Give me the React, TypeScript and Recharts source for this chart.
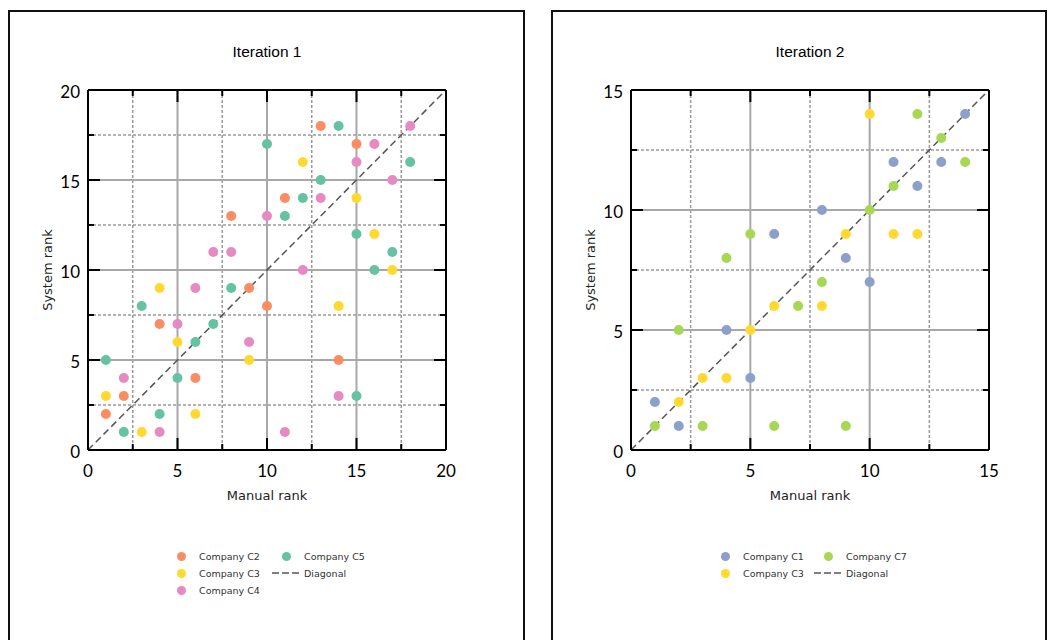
import React from "react";
import { CartesianGrid, ReferenceLine, Scatter, ScatterChart, XAxis, YAxis } from "recharts";

// Iteration 1: manual rank vs system rank per company
const i1C2Manual = [1, 2, 4, 6, 8, 9, 10, 11, 13, 14, 15];
const i1C2System = [2, 3, 7, 4, 13, 9, 8, 14, 18, 5, 17];
const i1C3Manual = [1, 3, 4, 5, 6, 9, 12, 14, 15, 16, 17];
const i1C3System = [3, 1, 9, 6, 2, 5, 16, 8, 14, 12, 10];
const i1C4Manual = [2, 4, 5, 6, 7, 8, 9, 10, 11, 12, 13, 14, 15, 16, 17, 18];
const i1C4System = [4, 1, 7, 9, 11, 11, 6, 13, 1, 10, 14, 3, 16, 17, 15, 18];
const i1C5Manual = [1, 2, 3, 4, 5, 6, 7, 8, 10, 11, 12, 13, 14, 15, 15, 16, 17, 18];
const i1C5System = [5, 1, 8, 2, 4, 6, 7, 9, 17, 13, 14, 15, 18, 12, 3, 10, 11, 16];

// Iteration 2
const i2C1Manual = [1, 2, 4, 5, 6, 8, 9, 10, 11, 12, 13, 14];
const i2C1System = [2, 1, 5, 3, 9, 10, 8, 7, 12, 11, 12, 14];
const i2C3Manual = [2, 3, 4, 5, 6, 8, 9, 10, 11, 12];
const i2C3System = [2, 3, 3, 5, 6, 6, 9, 14, 9, 9];
const i2C7Manual = [1, 2, 3, 4, 5, 6, 7, 8, 9, 10, 11, 12, 13, 14];
const i2C7System = [1, 5, 1, 8, 9, 1, 6, 7, 1, 10, 11, 14, 13, 12];

const i1Ticks = [0, 5, 10, 15, 20];
const i1Minor = [2.5, 7.5, 12.5, 17.5];
const i2Ticks = [0, 5, 10, 15];
const i2Minor = [2.5, 7.5, 12.5];

const TEAL = "#66c2a5";
const ORANGE = "#fc8d62";
const BLUE = "#8da0cb";
const PINK = "#e78ac3";
const GREEN = "#a6d854";
const YELLOW = "#ffd92f";

type Series = { name: string; color: string; manual: number[]; system: number[] };

const iter1: Series[] = [
  { name: "Company C2", color: ORANGE, manual: i1C2Manual, system: i1C2System },
  { name: "Company C3", color: YELLOW, manual: i1C3Manual, system: i1C3System },
  { name: "Company C4", color: PINK, manual: i1C4Manual, system: i1C4System },
  { name: "Company C5", color: TEAL, manual: i1C5Manual, system: i1C5System },
];
const iter2: Series[] = [
  { name: "Company C1", color: BLUE, manual: i2C1Manual, system: i2C1System },
  { name: "Company C3", color: YELLOW, manual: i2C3Manual, system: i2C3System },
  { name: "Company C7", color: GREEN, manual: i2C7Manual, system: i2C7System },
];

const toPoints = (m: number[], s: number[]) => m.map((x, i) => ({ x, y: s[i] }));

const PLOT = 358; // plot box side in px
const axisLine = { stroke: "#000", strokeWidth: 2 };
const tickFont = { fontFamily: "Lato", fontSize: 17, fill: "#000" };
const titleFont = { fontFamily: "DejaVu Sans", fontSize: 13, fill: "#222" };

const scaleOf = (axis: any, v: number) => {
  const s = axis?.scale;
  if (typeof s === "function") return s(v);
  if (s && typeof s.map === "function") return s.map(v);
  return 0;
};

// tick labels only on the major values; the tick marks are drawn separately
function makeLabel(side: string, majors: number[]) {
  return (p: any) => {
    const x = Number(p.x);
    const y = Number(p.y);
    const v = p.payload?.value;
    if (!majors.includes(v)) return <g />;
    if (side === "bottom")
      return (
        <text x={x} y={y + 27} textAnchor="middle" {...tickFont}>
          {v}
        </text>
      );
    return (
      <text x={x - 8} y={y + 8} textAnchor="end" {...tickFont}>
        {v}
      </text>
    );
  };
}

function LegendBox({ series, left, colW, rows }: { series: Series[]; left: number; colW: number; rows: number }) {
  const items = [...series.map((s) => ({ name: s.name, color: s.color, dash: false })), { name: "Diagonal", color: "#555", dash: true }];
  return (
    <div
      style={{
        position: "absolute",
        left,
        top: 547.5,
        display: "grid",
        gridTemplateRows: `repeat(${rows}, 17px)`,
        gridAutoFlow: "column",
        gridAutoColumns: `${colW}px`,
        fontFamily: "DejaVu Sans",
        fontSize: 9.5,
        color: "#333",
      }}
    >
      {items.map((it) => (
        <div key={it.name} style={{ display: "flex", alignItems: "center" }}>
          <div style={{ width: 28, display: "flex", justifyContent: "center", marginRight: 4 }}>
            {it.dash ? (
              <svg width={28} height={4}>
                <line x1={0} y1={2} x2={28} y2={2} stroke={it.color} strokeWidth={1.5} strokeDasharray="7 3" />
              </svg>
            ) : (
              <div style={{ width: 9, height: 9, borderRadius: "50%", background: it.color }} />
            )}
          </div>
          <span>{it.name}</span>
        </div>
      ))}
    </div>
  );
}

function RankPanel(props: {
  title: string;
  series: Series[];
  ticks: number[];
  minor: number[];
  plotLeft: number;
  panelLeft: number;
  panelWidth: number;
  legendLeft: number;
  legendColW: number;
  legendRows: number;
}) {
  const { title, series, ticks, minor, plotLeft } = props;
  const max = ticks[ticks.length - 1];
  const all = [...ticks, ...minor].sort((a, b) => a - b);
  const domain: [number, number] = [0, max];
  const inner = ticks.slice(1, -1);
  // inward tick marks: 12px for major, 6px for minor, expressed in axis units
  const len = (v: number) => ((ticks.includes(v) ? 12 : 6) * max) / PLOT;
  const axisCommon = {
    type: "number" as const,
    domain,
    ticks: all,
    interval: 0 as const,
    allowDataOverflow: true,
    tickSize: 0,
    tickMargin: 0,
    tickLine: false,
    axisLine,
  };
  const tickMark = { xAxisId: "b", yAxisId: "l", stroke: "#000", strokeWidth: 2 };
  return (
    <>
      <div
        style={{
          position: "absolute",
          left: props.panelLeft,
          top: 10,
          width: props.panelWidth,
          height: 660,
          border: "2px solid #111",
          boxSizing: "border-box",
        }}
      />
      <div
        style={{
          position: "absolute",
          left: plotLeft,
          width: PLOT,
          top: 43,
          textAlign: "center",
          fontFamily: "Liberation Sans",
          fontSize: 15.5,
          color: "#000",
        }}
      >
        {title}
      </div>
      <div style={{ position: "absolute", left: plotLeft - 60, top: 59 }}>
        <ScatterChart width={430} height={446} margin={{ top: 21, right: 2, bottom: 5, left: 20 }}>
          <CartesianGrid
            xAxisId="b"
            yAxisId="l"
            stroke="#9a9a9a"
            strokeWidth={1.5}
            strokeDasharray="3 2"
            verticalCoordinatesGenerator={({ xAxis }: any) => minor.map((v) => scaleOf(xAxis, v))}
            horizontalCoordinatesGenerator={({ yAxis }: any) => minor.map((v) => scaleOf(yAxis, v))}
          />
          <CartesianGrid
            xAxisId="b"
            yAxisId="l"
            stroke="#a8a8a8"
            strokeWidth={2}
            verticalCoordinatesGenerator={({ xAxis }: any) => inner.map((v) => scaleOf(xAxis, v))}
            horizontalCoordinatesGenerator={({ yAxis }: any) => inner.map((v) => scaleOf(yAxis, v))}
          />
          {series.map((s) => (
            <Scatter
              key={s.name}
              name={s.name}
              xAxisId="b"
              yAxisId="l"
              data={toPoints(s.manual, s.system)}
              fill={s.color}
              isAnimationActive={false}
              shape={(p: any) => <circle cx={p.cx} cy={p.cy} r={5} fill={s.color} />}
            />
          ))}
          <ReferenceLine
            xAxisId="b"
            yAxisId="l"
            segment={[
              { x: 0, y: 0 },
              { x: max, y: max },
            ]}
            stroke="#555"
            strokeWidth={1.5}
            strokeDasharray="7 4"
          />
          {all.map((v) => (
            <ReferenceLine key={`tb${v}`} {...tickMark} segment={[{ x: v, y: 0 }, { x: v, y: len(v) }]} />
          ))}
          {all.map((v) => (
            <ReferenceLine key={`tt${v}`} {...tickMark} segment={[{ x: v, y: max }, { x: v, y: max - len(v) }]} />
          ))}
          {all.map((v) => (
            <ReferenceLine key={`tl${v}`} {...tickMark} segment={[{ x: 0, y: v }, { x: len(v), y: v }]} />
          ))}
          {all.map((v) => (
            <ReferenceLine key={`tr${v}`} {...tickMark} segment={[{ x: max, y: v }, { x: max - len(v), y: v }]} />
          ))}
          <XAxis
            xAxisId="b"
            dataKey="x"
            {...axisCommon}
            tick={makeLabel("bottom", ticks)}
            height={50}
            label={{ value: "Manual rank", position: "insideBottom", offset: 0, style: titleFont }}
          />
          <XAxis xAxisId="t" orientation="top" {...axisCommon} tick={false} height={10} />
          <YAxis
            yAxisId="l"
            dataKey="y"
            {...axisCommon}
            tick={makeLabel("left", ticks)}
            width={40}
            label={{
              content: (p: any) => {
                const vb = p.viewBox || { x: 0, y: 0, width: 0, height: 0 };
                const cx = vb.x;
                const cy = vb.y + vb.height / 2;
                return (
                  <text x={cx} y={cy} transform={`rotate(-90 ${cx} ${cy})`} textAnchor="middle" dy={4} {...titleFont}>
                    System rank
                  </text>
                );
              },
            }}
          />
          <YAxis yAxisId="r" orientation="right" {...axisCommon} tick={false} width={10} />
        </ScatterChart>
      </div>
      <LegendBox series={series} left={props.legendLeft} colW={props.legendColW} rows={props.legendRows} />
    </>
  );
}

export default function App() {
  return (
    <div style={{ position: "absolute", left: 0, top: 0, width: 1054, height: 640, background: "#fff", overflow: "hidden" }}>
      <RankPanel
        title="Iteration 1"
        series={iter1}
        ticks={i1Ticks}
        minor={i1Minor}
        plotLeft={88}
        panelLeft={8}
        panelWidth={517}
        legendLeft={167}
        legendColW={105}
        legendRows={3}
      />
      <RankPanel
        title="Iteration 2"
        series={iter2}
        ticks={i2Ticks}
        minor={i2Minor}
        plotLeft={631}
        panelLeft={551}
        panelWidth={496}
        legendLeft={711}
        legendColW={103}
        legendRows={2}
      />
    </div>
  );
}
